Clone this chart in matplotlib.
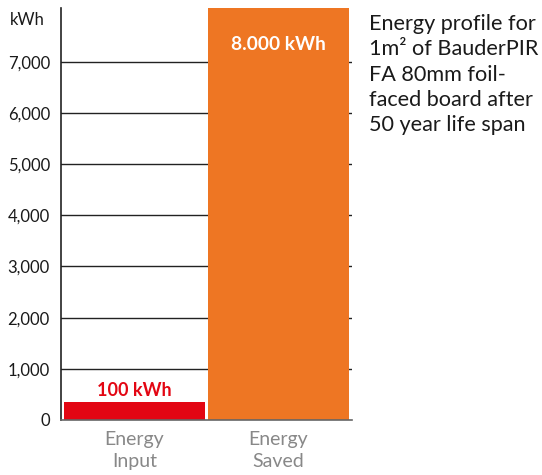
import matplotlib
matplotlib.use("Agg")
import matplotlib.pyplot as plt

categories = ["Energy\nInput", "Energy\nSaved"]
values = [360, 8050]
bar_labels = ["100 kWh", "8.000 kWh"]
colors = ["#E30613", "#EE7623"]
yticks = [0, 1000, 2000, 3000, 4000, 5000, 6000, 7000]
ytick_labels = ["0", "1,000", "2,000", "3,000", "4,000", "5,000", "6,000", "7,000"]
note = "Energy profile for\n1m\u00b2 of BauderPIR\nFA 80mm foil-\nfaced board after\n50 year life span"

plt.rcParams['font.family'] = ['Lato', 'DejaVu Sans']

fig = plt.figure(figsize=(5.42, 4.75), dpi=100)
ax = fig.add_axes([61/542, 1-420/475, 291/542, 412/475])

x = list(range(len(categories)))
ax.bar(x, values, width=0.98, color=colors, zorder=3)
ax.set_xlim(-0.51, 1.51)
ax.set_ylim(0, 8050)

for yv in yticks[1:]:
    ax.axhline(yv, color="#222222", lw=1.0, zorder=1)

ax.set_yticks(yticks)
ax.set_yticklabels(ytick_labels, fontsize=12, color="#1a1a1a")
ax.tick_params(axis='y', length=0, pad=8)
ax.set_xticks(x)
ax.set_xticklabels(categories, fontsize=14, color="#888888", linespacing=1.35)
ax.tick_params(axis='x', length=0, pad=8)

for s in ["top", "right"]:
    ax.spines[s].set_visible(False)
ax.spines["left"].set_color("#222222")
ax.spines["left"].set_linewidth(1.2)
ax.spines["bottom"].set_color("#666666")
ax.spines["bottom"].set_linewidth(1.2)
ax.spines["bottom"].set_zorder(4)

# bar value labels
ax.text(x[0], 570, bar_labels[0], ha="center", va="center",
        fontsize=13, fontweight="bold", color=colors[0], zorder=5)
ax.text(x[1], 7345, bar_labels[1], ha="center", va="center",
        fontsize=13.8, fontweight="bold", color="white", zorder=5)

fig.text(10/542, 1-20/475, "kWh", fontsize=12, ha="left", va="center", color="#1a1a1a")
fig.text(369/542, 1-14/475, note, fontsize=15.6, ha="left", va="top",
         color="#1a1a1a", linespacing=1.33)

fig.savefig("out.png", dpi=100)
